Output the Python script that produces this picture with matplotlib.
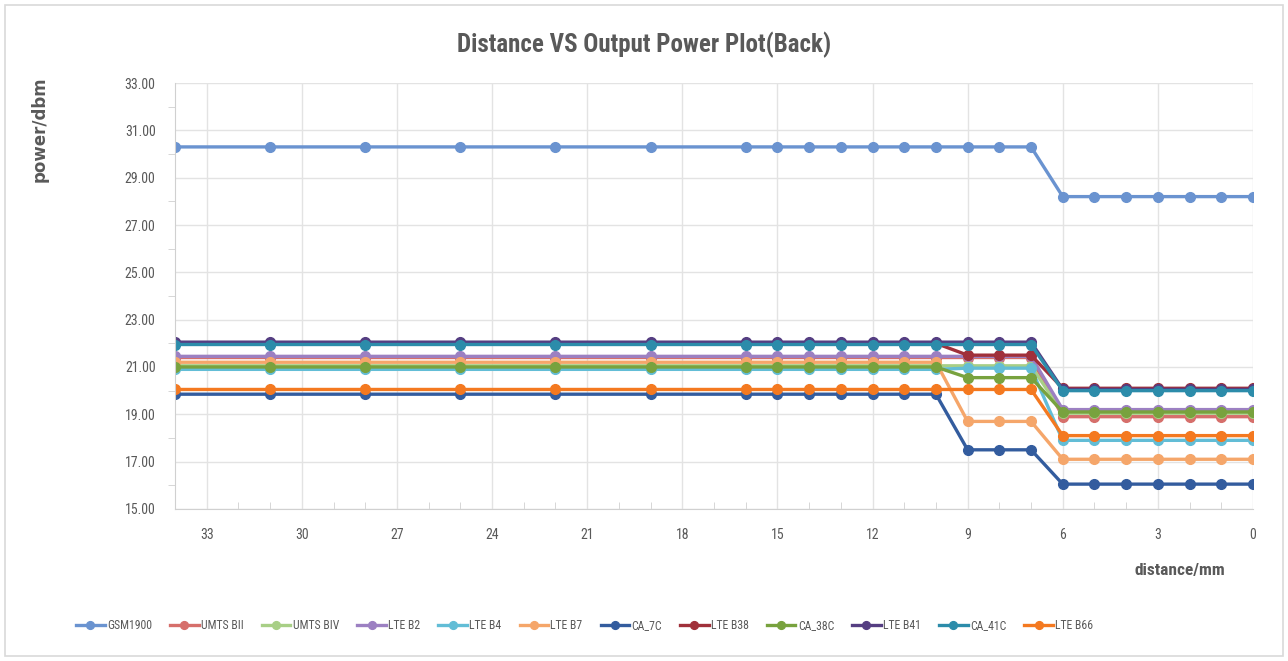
import matplotlib
matplotlib.use('Agg')
import matplotlib.pyplot as plt
import numpy as np
from matplotlib import font_manager
from matplotlib.patches import Rectangle
from matplotlib.ticker import MultipleLocator, FormatStrFormatter

# prefer a condensed face if one happens to be installed
installed = {f.name for f in font_manager.fontManager.ttflist}
narrow = 'Liberation Sans'
for cand in ['Liberation Sans Narrow', 'Roboto Condensed', 'Open Sans Condensed',
             'Noto Sans Condensed', 'Noto Sans Display Condensed']:
    if cand in installed:
        narrow = cand
        break
plt.rcParams['font.family'] = [narrow, 'DejaVu Sans']

distance = [34, 31, 28, 25, 22, 19, 16, 15, 14, 13, 12, 11, 10, 9, 8, 7, 6, 5, 4, 3, 2, 1, 0]

gsm1900 = [30.3, 30.3, 30.3, 30.3, 30.3, 30.3, 30.3, 30.3, 30.3, 30.3, 30.3, 30.3, 30.3, 30.3, 30.3, 30.3,
           28.2, 28.2, 28.2, 28.2, 28.2, 28.2, 28.2]
umts_b2 = [21.4, 21.4, 21.4, 21.4, 21.4, 21.4, 21.4, 21.4, 21.4, 21.4, 21.4, 21.4, 21.4, 21.4, 21.4, 21.4,
           18.9, 18.9, 18.9, 18.9, 18.9, 18.9, 18.9]
umts_b4 = [21.05, 21.05, 21.05, 21.05, 21.05, 21.05, 21.05, 21.05, 21.05, 21.05, 21.05, 21.05, 21.05, 21.05, 21.05, 21.05,
           19.05, 19.05, 19.05, 19.05, 19.05, 19.05, 19.05]
lte_b2 = [21.45, 21.45, 21.45, 21.45, 21.45, 21.45, 21.45, 21.45, 21.45, 21.45, 21.45, 21.45, 21.45, 21.45, 21.45, 21.45,
          19.2, 19.2, 19.2, 19.2, 19.2, 19.2, 19.2]
lte_b4 = [20.9, 20.9, 20.9, 20.9, 20.9, 20.9, 20.9, 20.9, 20.9, 20.9, 20.9, 20.9, 20.9, 20.95, 20.95, 20.95,
          17.9, 17.9, 17.9, 17.9, 17.9, 17.9, 17.9]
lte_b7 = [21.2, 21.2, 21.2, 21.2, 21.2, 21.2, 21.2, 21.2, 21.2, 21.2, 21.2, 21.2, 21.2, 18.7, 18.7, 18.7,
          17.1, 17.1, 17.1, 17.1, 17.1, 17.1, 17.1]
ca_7c = [19.85, 19.85, 19.85, 19.85, 19.85, 19.85, 19.85, 19.85, 19.85, 19.85, 19.85, 19.85, 19.85, 17.5, 17.5, 17.5,
         16.05, 16.05, 16.05, 16.05, 16.05, 16.05, 16.05]
lte_b38 = [22.0, 22.0, 22.0, 22.0, 22.0, 22.0, 22.0, 22.0, 22.0, 22.0, 22.0, 22.0, 22.0, 21.5, 21.5, 21.5,
           20.1, 20.1, 20.1, 20.1, 20.1, 20.1, 20.1]
ca_38c = [21.0, 21.0, 21.0, 21.0, 21.0, 21.0, 21.0, 21.0, 21.0, 21.0, 21.0, 21.0, 21.0, 20.55, 20.55, 20.55,
          19.1, 19.1, 19.1, 19.1, 19.1, 19.1, 19.1]
lte_b41 = [22.05, 22.05, 22.05, 22.05, 22.05, 22.05, 22.05, 22.05, 22.05, 22.05, 22.05, 22.05, 22.05, 22.05, 22.05, 22.05,
           20.05, 20.05, 20.05, 20.05, 20.05, 20.05, 20.05]
ca_41c = [21.95, 21.95, 21.95, 21.95, 21.95, 21.95, 21.95, 21.95, 21.95, 21.95, 21.95, 21.95, 21.95, 21.95, 21.95, 21.95,
          20.0, 20.0, 20.0, 20.0, 20.0, 20.0, 20.0]
lte_b66 = [20.05, 20.05, 20.05, 20.05, 20.05, 20.05, 20.05, 20.05, 20.05, 20.05, 20.05, 20.05, 20.05, 20.05, 20.05, 20.05,
           18.1, 18.1, 18.1, 18.1, 18.1, 18.1, 18.1]

labels = ['GSM1900', 'UMTS BII', 'UMTS BIV', 'LTE B2', 'LTE B4', 'LTE B7', 'CA_7C',
          'LTE B38', 'CA_38C', 'LTE B41', 'CA_41C', 'LTE B66']
series = [gsm1900, umts_b2, umts_b4, lte_b2, lte_b4, lte_b7, ca_7c,
          lte_b38, ca_38c, lte_b41, ca_41c, lte_b66]
colors = ['#6A93D0', '#D66F6B', '#A8CF86', '#9C80C2', '#62BDD6', '#F5A66A', '#335C9E',
          '#A0303A', '#78A23E', '#553E82', '#2C8CAA', '#F47920']

fig = plt.figure(figsize=(12.88, 6.61), dpi=100)
ax = fig.add_axes([0.1359, 0.2300, 0.8369, 0.6444])

for vals, lab, col in zip(series, labels, colors):
    ax.plot(distance, vals, marker='o', markersize=7, linewidth=2.4, color=col, label=lab)

ax.set_xlim(34, 0)
ax.set_ylim(15, 33)
ax.set_xticks(np.arange(33, -1, -3))
ax.xaxis.set_minor_locator(MultipleLocator(1))
ax.set_yticks(np.arange(15, 34, 2))
ax.set_yticks(np.arange(16, 33, 2), minor=True)
ax.yaxis.set_major_formatter(FormatStrFormatter('%.2f'))

ax.grid(True, which='major', color='#E3E3E3', linewidth=1)
ax.set_axisbelow(True)
for s in ['top', 'right']:
    ax.spines[s].set_visible(False)
for s in ['left', 'bottom']:
    ax.spines[s].set_color('#D0D0D0')
ax.tick_params(axis='both', which='major', length=0, labelsize=10, labelcolor='#595959')
ax.tick_params(axis='x', which='major', pad=14)
ax.tick_params(axis='y', which='major', pad=14)
ax.tick_params(axis='x', which='minor', direction='in', length=5, color='#D0D0D0')
ax.tick_params(axis='y', which='minor', direction='out', length=5, color='#D0D0D0')

fig.text(0.5, 0.932, 'Distance VS Output Power Plot(Back)', ha='center', va='center',
         fontsize=18, fontweight='bold', color='#595959')
fig.text(0.031, 0.805, 'power/dbm', rotation=90, ha='center', va='center',
         fontsize=12, fontweight='bold', color='#595959', family='DejaVu Sans')
fig.text(0.916, 0.137, 'distance/mm', ha='center', va='center',
         fontsize=12.5, fontweight='bold', color='#595959')

fig.legend(loc='center', bbox_to_anchor=(0.454, 0.053), ncol=12, frameon=False,
           fontsize=8.5, handlelength=2.4, columnspacing=1.55, handletextpad=0.2,
           labelcolor='#595959', markerscale=0.8)

fig.patches.append(Rectangle((0.004, 0.008), 0.992, 0.984, transform=fig.transFigure,
                             fill=False, edgecolor='#D9D9D9', linewidth=1.2))

fig.savefig('out.png', dpi=100)
